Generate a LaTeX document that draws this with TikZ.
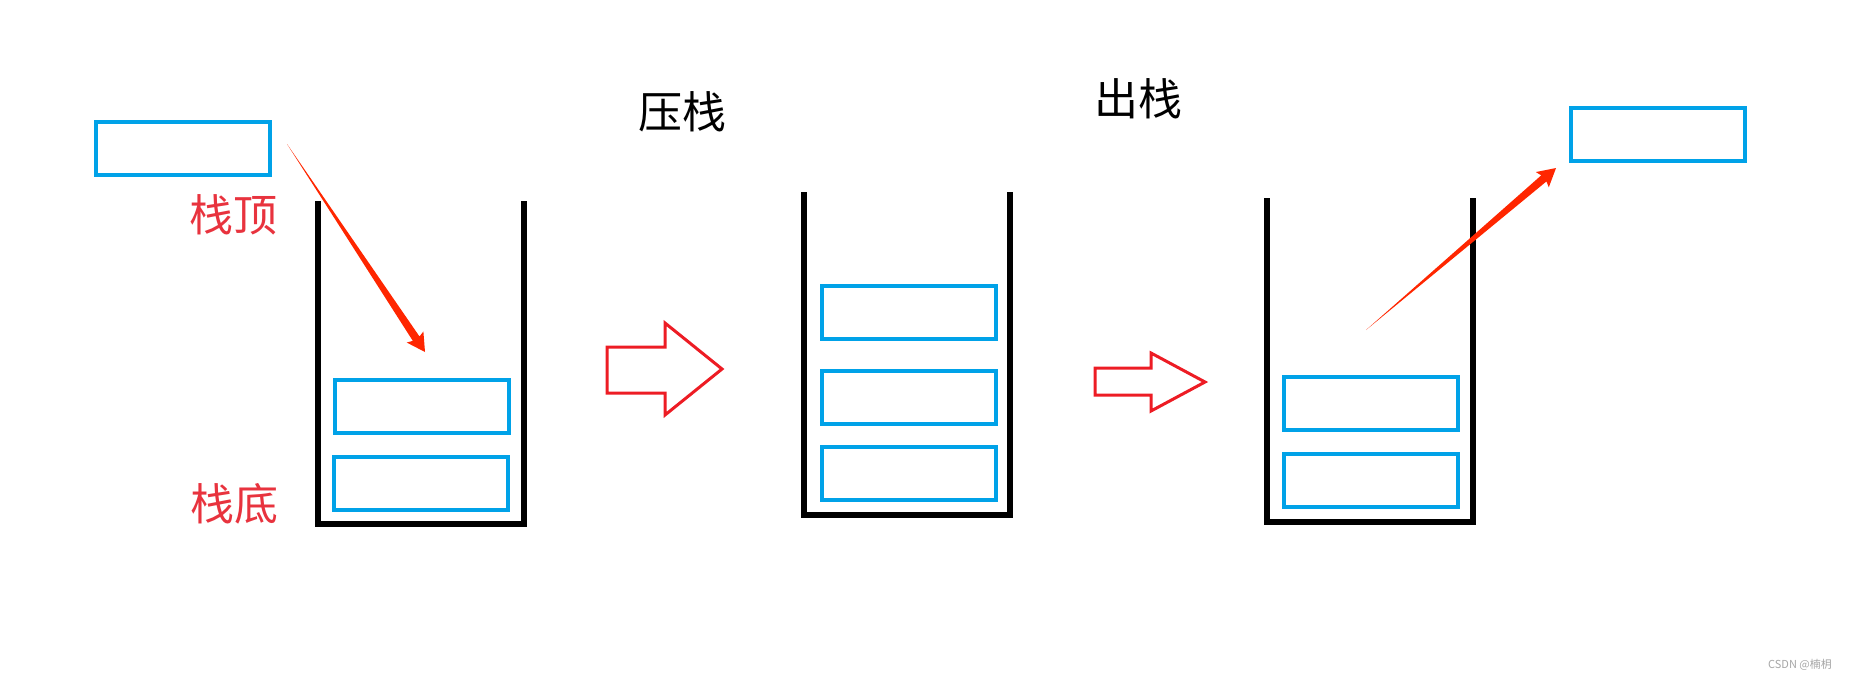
\documentclass[tikz,border=0pt]{standalone}
\usepackage{fontspec}
\setmainfont{Noto Sans CJK SC}
\usepackage{tikz}
\usetikzlibrary{positioning,calc}
\definecolor{boxblue}{RGB}{0,162,232}
\definecolor{markred}{RGB}{232,51,62}
\definecolor{paintred}{RGB}{237,28,36}
\definecolor{pointred}{RGB}{255,38,0}
% thin tail, widening to a small filled head
\newcommand\taperarrow[2]{%
  \fill[pointred] (#1) -- ($(#2)!8pt!(#1)!2pt!90:(#1)$) -- ($(#2)!9pt!(#1)!5pt!90:(#1)$)
    -- (#2) -- ($(#2)!9pt!(#1)!5pt!-90:(#1)$) -- ($(#2)!8pt!(#1)!2pt!-90:(#1)$) -- cycle;}

\begin{document}
\begin{tikzpicture}[x=0.5pt,y=-0.5pt,
  stackbox/.style={draw=boxblue,line width=2pt,minimum width=87pt,minimum height=26.5pt,inner sep=0pt},
  wall/.style={line width=2.6pt,line join=miter},
  blockarrow/.style={draw=paintred,line width=1.5pt,line join=miter},
  redlabel/.style={text=markred,font=\fontsize{22pt}{24pt}\selectfont},
  title/.style={font=\fontsize{22pt}{24pt}\selectfont}]
  \useasboundingbox (0,0) rectangle (1850,681);
  % first stack: a new element goes in
  \node[stackbox] (newbox) at (182.5,148.5) {};
  \node[redlabel] (toplabel) at (233,215) {栈顶};
  \node[redlabel] (botlabel) at (234,504) {栈底};
  \draw[wall] (318,201) |- (524,524) -- (524,201);
  \node[stackbox] (s1top) at (421.5,406.5) {};
  \node[stackbox] (s1bot) at (421,483) {};
  \coordinate (pushfrom) at (287,144);
  \coordinate (pushto) at (425,352);
  \taperarrow{pushfrom}{pushto}
  \node[title] (pushlabel) at (682,112) {压栈};
  \draw[blockarrow] (607,347) -- (665,347) -- (665,323) -- (722,369) -- (665,415) -- (665,393) -- (607,393) -- cycle;
  % second stack: three elements
  \draw[wall] (804,192) |- (1010,515) -- (1010,192);
  \node[stackbox] (s2top) at (908.5,312) {};
  \node[stackbox] (s2mid) at (908.5,397) {};
  \node[stackbox] (s2bot) at (908.5,473.5) {};
  \node[title] (poplabel) at (1138,99) {出栈};
  \draw[blockarrow] (1095,368) -- (1151,368) -- (1151,353) -- (1205,382) -- (1151,411) -- (1151,395) -- (1095,395) -- cycle;
  % third stack: the top element leaves
  \draw[wall] (1267,198) |- (1473,522) -- (1473,198);
  \node[stackbox] (s3top) at (1371,403.5) {};
  \node[stackbox] (s3bot) at (1371,480) {};
  \node[stackbox] (outbox) at (1657.5,134.5) {};
  \coordinate (popfrom) at (1366,330);
  \coordinate (popto) at (1556,168);
  \taperarrow{popfrom}{popto}
  \node[text=gray!70,font=\fontsize{5.5pt}{6pt}\selectfont] (mark) at (1800,665) {CSDN @楠枂};
\end{tikzpicture}
\end{document}
